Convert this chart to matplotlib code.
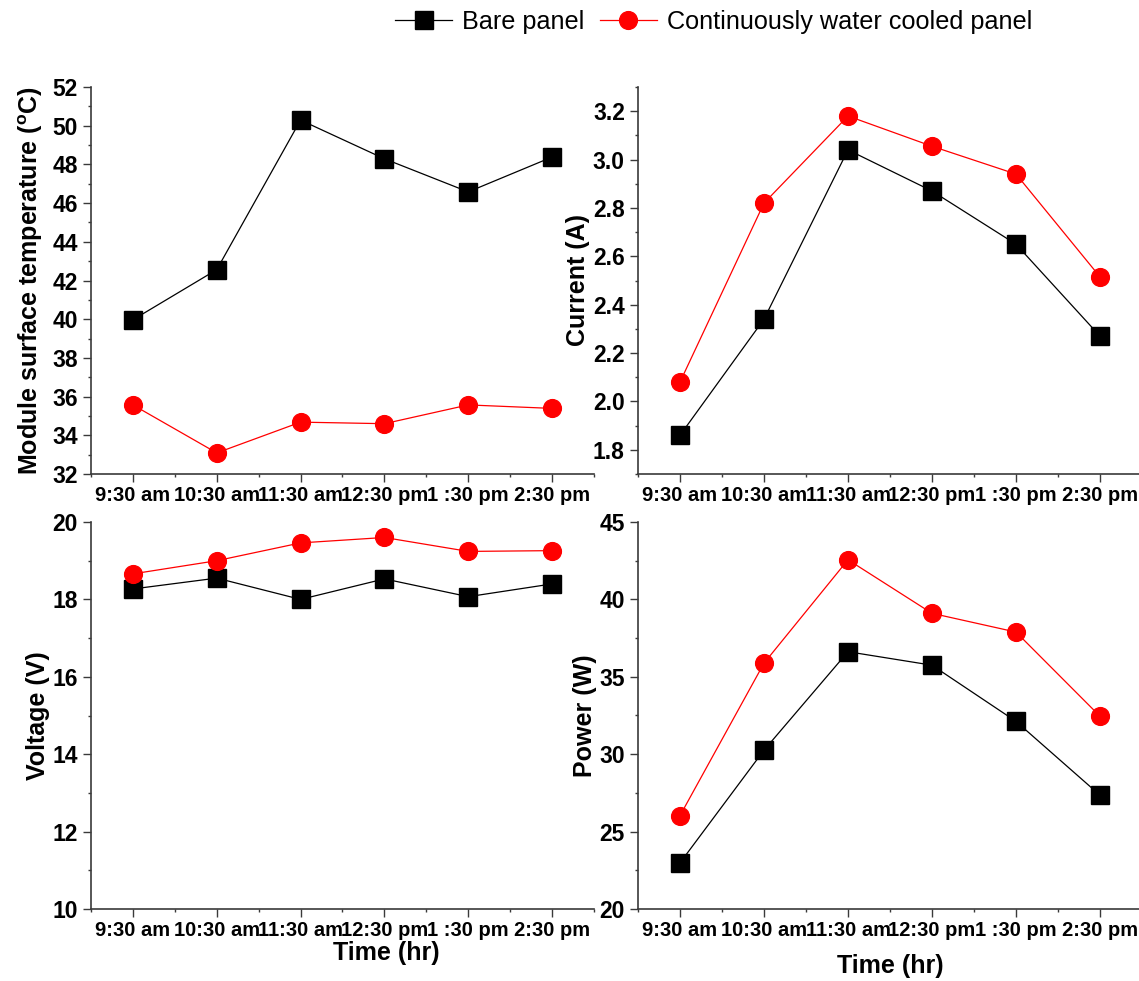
import matplotlib
matplotlib.use("Agg")
import matplotlib.pyplot as plt
from matplotlib.ticker import MultipleLocator, FixedLocator, FuncFormatter

plt.rcParams["font.family"] = ["Liberation Sans", "DejaVu Sans"]
plt.rcParams["font.weight"] = "bold"
plt.rcParams["mathtext.fontset"] = "custom"
plt.rcParams["mathtext.rm"] = "Liberation Sans:bold"
plt.rcParams["mathtext.bf"] = "Liberation Sans:bold"

times = ["9:30 am", "10:30 am", "11:30 am", "12:30 pm", "1 :30 pm", "2:30 pm"]
x = [1, 2, 3, 4, 5, 6]

temp_bare = [39.97, 42.56, 50.29, 48.29, 46.58, 48.38]
temp_cooled = [35.57, 33.09, 34.68, 34.60, 35.57, 35.39]

current_bare = [1.86, 2.34, 3.04, 2.87, 2.65, 2.27]
current_cooled = [2.08, 2.82, 3.18, 3.055, 2.94, 2.515]

voltage_bare = [18.27, 18.55, 18.00, 18.53, 18.07, 18.40]
voltage_cooled = [18.66, 19.00, 19.46, 19.60, 19.24, 19.26]

power_bare = [22.98, 30.26, 36.62, 35.75, 32.12, 27.35]
power_cooled = [26.03, 35.88, 42.56, 39.10, 37.89, 32.45]

W, H = 1139, 981
fig = plt.figure(figsize=(W / 100, H / 100), dpi=100)


def make_axes(left, top, right, bottom):
    # pixel box -> figure fraction
    return fig.add_axes([left / W, 1 - bottom / H, (right - left) / W, (bottom - top) / H])


ax_t = make_axes(91, 87, 594, 474)
ax_c = make_axes(638, 87, 1142, 474)
ax_v = make_axes(91, 522, 594, 909)
ax_p = make_axes(638, 522, 1142, 909)

spine_col = "#3a3a3a"
panels = [
    (ax_t, temp_bare, temp_cooled, (32, 52), 2, 1, r"Module surface temperature ($^{\mathbf{o}}$C)", "{:.0f}"),
    (ax_c, current_bare, current_cooled, (1.7, 3.3), 0.2, 0.1, "Current (A)", "{:.1f}"),
    (ax_v, voltage_bare, voltage_cooled, (10, 20), 2, 1, "Voltage (V)", "{:.0f}"),
    (ax_p, power_bare, power_cooled, (20, 45), 5, 2.5, "Power (W)", "{:.0f}"),
]

handles = None
for ax, bare, cooled, ylim, major, minor, ylabel, fmt in panels:
    h1, = ax.plot(x, bare, color="black", lw=0.9, marker="s", ms=12.5, mfc="black", mec="black",
                  label="Bare panel", clip_on=False, zorder=3)
    h2, = ax.plot(x, cooled, color="red", lw=0.9, marker="o", ms=12.8, mfc="red", mec="red",
                  label="Continuously water cooled panel", clip_on=False, zorder=3)
    handles = [h1, h2]
    ax.set_xlim(0.5, 6.5)
    ax.set_ylim(*ylim)
    ax.xaxis.set_major_locator(FixedLocator(x))
    ax.xaxis.set_minor_locator(FixedLocator([0.5, 1.5, 2.5, 3.5, 4.5, 5.5, 6.5]))
    ax.set_xticklabels(times)
    ax.yaxis.set_major_locator(MultipleLocator(major))
    ax.yaxis.set_minor_locator(MultipleLocator(minor))
    ax.yaxis.set_major_formatter(FuncFormatter(lambda v, p, f=fmt: f.format(v)))
    for side in ("top", "right"):
        ax.spines[side].set_visible(False)
    for side in ("left", "bottom"):
        ax.spines[side].set_color(spine_col)
        ax.spines[side].set_linewidth(1.2)
    ax.tick_params(axis="both", which="major", length=5.5, width=1.0, color=spine_col, direction="out")
    ax.tick_params(axis="both", which="minor", length=2.5, width=1.0, color=spine_col, direction="out")
    ax.tick_params(axis="y", which="major", labelsize=16.5, pad=4)
    ax.tick_params(axis="x", which="major", labelsize=14.5, pad=3)
    ax.set_ylabel(ylabel, fontsize=18, fontweight="bold")

ax_t.yaxis.set_label_coords(-0.091, 0.5)
ax_c.yaxis.set_label_coords(-0.095, 0.5)
ax_v.yaxis.set_label_coords(-0.082, 0.5)
ax_p.yaxis.set_label_coords(-0.081, 0.5)

ax_v.set_xlabel("Time (hr)", fontsize=18, fontweight="bold")
ax_p.set_xlabel("Time (hr)", fontsize=18, fontweight="bold")
ax_v.xaxis.set_label_coords(0.587, -0.083)
ax_p.xaxis.set_label_coords(0.5, -0.116)

fig.legend(handles, [h.get_label() for h in handles], loc="center", bbox_to_anchor=(0.6265, 0.978),
           ncol=2, frameon=False, prop={"size": 18.2, "weight": "normal"}, handlelength=2.25,
           handletextpad=0.4, columnspacing=0.6, borderaxespad=0)

fig.savefig("out.png", dpi=100)
